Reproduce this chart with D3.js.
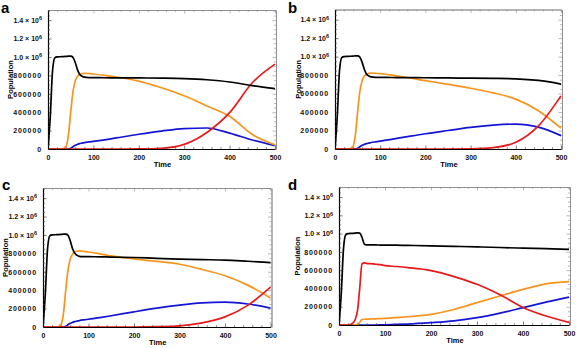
<!DOCTYPE html>
<html><head><meta charset="utf-8">
<script src="https://cdn.jsdelivr.net/npm/d3@7"></script>
<style>
html,body{margin:0;padding:0;background:#fff;}
svg{display:block;font-family:"Liberation Sans",Arial,sans-serif;}
</style></head>
<body><svg id="chart" width="576" height="348"></svg>
<script>
// ---- data (population in thousands) ----
const times = [0,5,10,15,20,30,40,45,50,55,60,65,70,75,80,90,100,125,150,200,250,300,350,400,450,500];

const aBlack  = [0,350,850,990,1000,1003,1006,1008,1008,995,940,860,810,790,780,776,775,774,773,772,770,765,752,728,688,655];
const aOrange = [0,0,0,0,0,0,30,150,400,620,740,790,810,818,822,820,815,800,782,737,665,578,468,355,158,45];
const aRed    = [0,0,0,0,0,0,0,0,0,0,0,0,0,0,0,0,0,0,0,1,8,50,180,395,720,922];
const aBlue   = [0,0,0,0,0,0,0,0,8,25,40,50,58,64,70,77,83,100,120,160,195,222,228,172,98,36];

const bBlack  = [0,350,850,990,1000,1003,1006,1008,1008,995,940,860,810,790,780,776,775,774,773,771,769,767,765,760,742,703];
const bOrange = [0,0,0,0,0,0,30,150,400,620,740,790,810,818,822,820,815,800,782,740,700,658,608,540,415,225];
const bRed    = [0,0,0,0,0,0,0,0,0,0,0,0,0,0,0,0,0,0,0,0,0,2,15,72,250,575];
const bBlue   = [0,0,0,0,0,0,0,0,8,25,40,50,58,64,70,78,86,105,125,165,200,234,258,270,236,145];

const cBlack  = [0,350,850,990,1000,1003,1006,1008,1008,995,935,850,800,778,768,765,764,762,760,755,746,738,732,727,714,700];
const cOrange = [0,0,0,0,0,0,30,150,400,620,740,790,815,823,826,822,815,795,772,740,712,682,625,557,455,316];
const cRed    = [0,0,0,0,0,0,0,0,0,0,0,0,0,0,0,0,0,0,0,0,3,12,45,110,235,432];
const cBlue   = [0,0,0,0,0,0,0,0,8,25,40,50,58,64,70,78,84,102,122,165,205,238,262,270,250,205];

const dBlack  = [0,350,850,990,1000,1003,1008,1005,960,885,876,876,876,876,876,875,875,873,871,866,861,855,848,841,835,828];
const dRed    = [0,0,0,0,0,20,150,400,670,680,675,672,670,668,665,660,650,640,628,595,530,445,330,192,98,28];
const dOrange = [0,0,0,0,0,0,5,30,60,63,64,65,66,67,68,70,72,80,90,117,170,245,318,390,450,474];
const dBlue   = [0,0,0,0,0,0,0,0,0,0,0,0,0,0,0,1,3,6,10,25,45,80,130,190,250,306];

const yTicks = [0,200000,400000,600000,800000,1000000,1200000,1400000];
const xTicks = [0,100,200,300,400,500];
const panelLetters = ["a","b","c","d"];
const xTitle = "Time";
const yTitle = "Population";

// ---- layout ----
const layouts = [
  {left:48,  right:275,   top:10,  bottom:149, ytx:10,  lx:1,   ly:13},
  {left:335, right:561,   top:9.5, bottom:149, ytx:298, lx:288, ly:13},
  {left:43,  right:270.5, top:188, bottom:327, ytx:5,   lx:2,   ly:190},
  {left:339, right:569,   top:187, bottom:325, ytx:297, lx:288, ly:190}
];
const seriesSets = [
  [aBlack,aOrange,aRed,aBlue],
  [bBlack,bOrange,bRed,bBlue],
  [cBlack,cOrange,cRed,cBlue],
  [dBlack,dOrange,dRed,dBlue]
];
const colors = ["#000000","#f7941d","#e8191b","#1414d6"];

const svg = d3.select("#chart");
svg.append("rect").attr("width",576).attr("height",348).attr("fill","#fff");

seriesSets.forEach((sets,i)=>{
  const L = layouts[i];
  const x = d3.scaleLinear().domain([0,500]).range([L.left,L.right]);
  const y = d3.scaleLinear().domain([0,1510000]).range([L.bottom,L.top]);
  const g = svg.append("g");
  const clipId = "clip"+i;
  g.append("clipPath").attr("id",clipId).append("rect")
    .attr("x",L.left).attr("y",L.top).attr("width",L.right-L.left+1).attr("height",L.bottom-L.top);

  const minorX = d3.range(0,501,20).filter(v=>v%100!==0);
  const minorY = d3.range(0,1500001,50000).filter(v=>v%200000!==0);
  const gray = "#8a8a8a";
  function styleAxis(sel, col){ sel.selectAll("path").attr("stroke",col).attr("stroke-width",0.8); sel.selectAll("line").attr("stroke",col).attr("stroke-width",0.6); }

  const topAx = g.append("g").attr("transform",`translate(0,${L.top})`)
    .call(d3.axisTop(x).tickValues(xTicks).tickSizeInner(-3.5).tickSizeOuter(0).tickFormat(""));
  styleAxis(topAx,gray);
  const topMin = g.append("g").attr("transform",`translate(0,${L.top})`)
    .call(d3.axisTop(x).tickValues(minorX).tickSizeInner(-2).tickSizeOuter(0).tickFormat(""));
  styleAxis(topMin,gray);
  const rightAx = g.append("g").attr("transform",`translate(${L.right+1},0)`)
    .call(d3.axisRight(y).tickValues(yTicks).tickSizeInner(-3.5).tickSizeOuter(0).tickFormat(""));
  styleAxis(rightAx,gray);
  const rightMin = g.append("g").attr("transform",`translate(${L.right+1},0)`)
    .call(d3.axisRight(y).tickValues(minorY).tickSizeInner(-2).tickSizeOuter(0).tickFormat(""));
  styleAxis(rightMin,gray);

  const line = d3.line().x((d,k)=>x(times[k])).y(d=>y(d*1000)).curve(d3.curveMonotoneX);
  const order = [3,1,2,0];
  order.forEach(si=>{
    g.append("path").datum(sets[si]).attr("d",line)
      .attr("fill","none").attr("stroke",colors[si]).attr("stroke-width",1.7)
      .attr("stroke-linejoin","round").attr("clip-path",`url(#${clipId})`);
  });

  const bAx = g.append("g").attr("transform",`translate(0,${L.bottom})`)
    .call(d3.axisBottom(x).tickValues(xTicks).tickSizeInner(-3.5).tickSizeOuter(0).tickPadding(6).tickFormat(d3.format("d")));
  styleAxis(bAx,"#222");
  bAx.select("path").attr("stroke","#000").attr("stroke-width",1.2);
  bAx.selectAll("text").attr("font-size",7).attr("font-weight","bold").attr("fill","#111");
  const bMin = g.append("g").attr("transform",`translate(0,${L.bottom})`)
    .call(d3.axisBottom(x).tickValues(minorX).tickSizeInner(-2).tickSizeOuter(0).tickFormat(""));
  styleAxis(bMin,"#444"); bMin.select("path").remove();

  const lAx = g.append("g").attr("transform",`translate(${L.left},0)`)
    .call(d3.axisLeft(y).tickValues(yTicks).tickSizeInner(-3.5).tickSizeOuter(0).tickPadding(6)
      .tickFormat(d=> d>=1000000 ? (d/1000000).toFixed(1)+" \u00d7 10" : String(d)));
  styleAxis(lAx,"#222");
  lAx.select("path").attr("stroke","#000").attr("stroke-width",1.2);
  lAx.selectAll("text").attr("font-size",7).attr("font-weight","bold").attr("fill","#111")
    .each(function(d){
      const t = d3.select(this);
      if(d>=1000000){
        t.append("tspan").attr("dy",-2.5).attr("font-size",5.5).text("6");
      } else {
        t.attr("letter-spacing",0.9);
      }
    });
  const lMin = g.append("g").attr("transform",`translate(${L.left},0)`)
    .call(d3.axisLeft(y).tickValues(minorY).tickSizeInner(-2).tickSizeOuter(0).tickFormat(""));
  styleAxis(lMin,"#444"); lMin.select("path").remove();

  g.append("text").attr("x",(L.left+L.right)/2+1).attr("y",L.bottom+18)
    .attr("text-anchor","middle").attr("font-size",7.5).attr("font-weight","bold").text(xTitle);
  g.append("text").attr("transform",`translate(${L.ytx+3},${(L.top+L.bottom)/2})rotate(-90)`)
    .attr("text-anchor","middle").attr("font-size",7.5).attr("font-weight","bold").text(yTitle);
  g.append("text").attr("x",L.lx).attr("y",L.ly).attr("font-size",15).attr("font-weight","bold")
    .text(panelLetters[i]);
});
</script></body></html>
